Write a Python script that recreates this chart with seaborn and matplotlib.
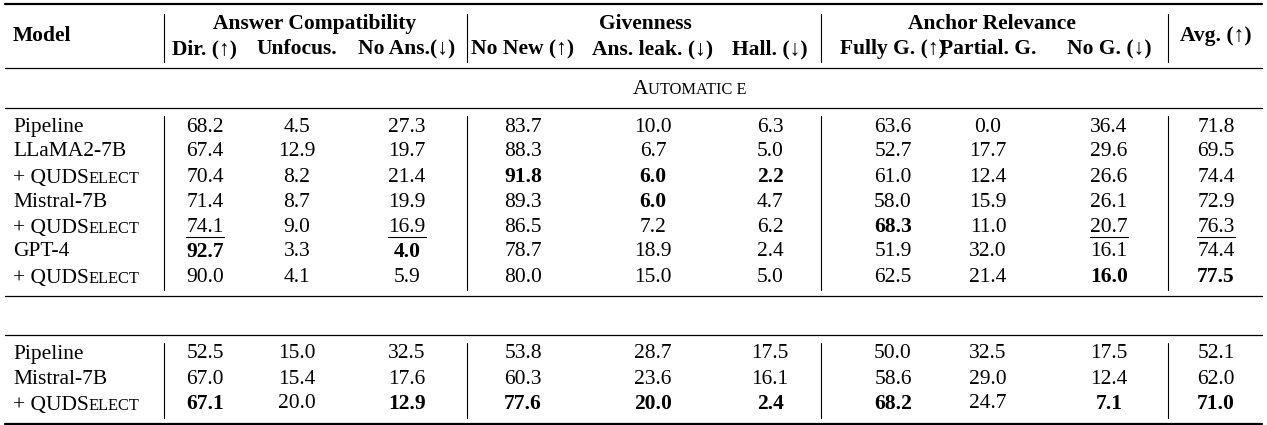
import matplotlib
matplotlib.use("Agg")
import matplotlib.pyplot as plt
import seaborn as sns

sns.set_theme(style="white")
plt.rcParams['font.family'] = ['Liberation Serif', 'DejaVu Serif']
plt.rcParams['text.color'] = 'black'

# Data
groups = ["Answer Compatibility", "Givenness", "Anchor Relevance"]
columns = ["Dir. (↑)", "Unfocus.", "No Ans.(↓)", "No New (↑)", "Ans. leak. (↓)", "Hall. (↓)",
           "Fully G. (↑)", "Partial. G.", "No G. (↓)", "Avg. (↑)"]
auto_models = ["Pipeline", "LLaMA2-7B", "+ QUDSELECT", "Mistral-7B", "+ QUDSELECT", "GPT-4", "+ QUDSELECT"]
auto_values = [
    ["68.2", "4.5", "27.3", "83.7", "10.0", "6.3", "63.6", "0.0", "36.4", "71.8"],
    ["67.4", "12.9", "19.7", "88.3", "6.7", "5.0", "52.7", "17.7", "29.6", "69.5"],
    ["70.4", "8.2", "21.4", "91.8", "6.0", "2.2", "61.0", "12.4", "26.6", "74.4"],
    ["71.4", "8.7", "19.9", "89.3", "6.0", "4.7", "58.0", "15.9", "26.1", "72.9"],
    ["74.1", "9.0", "16.9", "86.5", "7.2", "6.2", "68.3", "11.0", "20.7", "76.3"],
    ["92.7", "3.3", "4.0", "78.7", "18.9", "2.4", "51.9", "32.0", "16.1", "74.4"],
    ["90.0", "4.1", "5.9", "80.0", "15.0", "5.0", "62.5", "21.4", "16.0", "77.5"],
]
auto_bold = [(2, 3), (2, 4), (2, 5), (3, 4), (4, 6), (5, 0), (5, 2), (6, 8), (6, 9)]
auto_under = [(4, 0), (4, 2), (4, 8), (4, 9)]
human_models = ["Pipeline", "Mistral-7B", "+ QUDSELECT"]
human_values = [
    ["52.5", "15.0", "32.5", "53.8", "28.7", "17.5", "50.0", "32.5", "17.5", "52.1"],
    ["67.0", "15.4", "17.6", "60.3", "23.6", "16.1", "58.6", "29.0", "12.4", "62.0"],
    ["67.1", "20.0", "12.9", "77.6", "20.0", "2.4", "68.2", "24.7", "7.1", "71.0"],
]
human_bold = [(2, 0), (2, 2), (2, 3), (2, 4), (2, 5), (2, 6), (2, 8), (2, 9)]

# Layout (pixels)
col_x = [205, 297, 407, 523, 653, 770, 893, 988, 1109, 1216]
vlines = [164, 467, 821, 1168]
group_x = [315, 645, 992]
FS = 15.5
SC = 0.76

fig = plt.figure(figsize=(12.67, 4.25), dpi=100)
ax = fig.add_axes([0, 0, 1, 1])
ax.set_xlim(0, 1267)
ax.set_ylim(425, 0)
ax.axis("off")
renderer = fig.canvas.get_renderer()
inv = ax.transData.inverted()


def width_of(t):
    bb = t.get_window_extent(renderer)
    return inv.transform((bb.x1, 0))[0] - inv.transform((bb.x0, 0))[0]


def small_caps(x, y, big, small, center=False):
    # big letter(s) at full size, remainder in smaller capitals
    t1 = ax.text(x, y, big, fontsize=FS, va="baseline")
    t2 = ax.text(x, y, small, fontsize=FS * SC, va="baseline")
    w1 = width_of(t1)
    if center:
        total = w1 + width_of(t2)
        x = x - total / 2
        t1.set_x(x)
    t2.set_x(x + w1)


def model_label(y, name):
    if name.endswith("QUDSELECT"):
        small_caps(13, y + 6, "+ QUDS", "ELECT")
    else:
        ax.text(13, y, name, fontsize=FS, va="center")


def draw_rows(models, values, bold, under, y0, y1):
    step = 25
    for i, (m, row) in enumerate(zip(models, values)):
        y = y0 + i * step
        model_label(y, m)
        for j, v in enumerate(row):
            w = "bold" if (i, j) in bold else "normal"
            t = ax.text(col_x[j], y, v, fontsize=FS, ha="center", va="center", fontweight=w)
            if (i, j) in under:
                bb = t.get_window_extent(renderer)
                xa = inv.transform((bb.x0, 0))[0]
                xb = inv.transform((bb.x1, 0))[0]
                ax.plot([xa, xb], [y + 10, y + 10], color="black", lw=0.8)
    for vx in vlines:
        ax.plot([vx, vx], [y0 - 11, y1], color="black", lw=0.8)


# Header
ax.plot([5, 1262], [4, 4], color="black", lw=1.6)
ax.text(13, 36, "Model", fontsize=FS, fontweight="bold", va="center")
for g, gx in zip(groups, group_x):
    ax.text(gx, 24, g, fontsize=FS, fontweight="bold", ha="center", va="center")
for c, cx in zip(columns[:-1], col_x[:-1]):
    ax.text(cx, 49, c, fontsize=FS, fontweight="bold", ha="center", va="center")
ax.text(col_x[-1], 36, columns[-1], fontsize=FS, fontweight="bold", ha="center", va="center")
for vx in vlines:
    ax.plot([vx, vx], [14, 62], color="black", lw=0.8)
ax.plot([5, 1262], [68, 68], color="black", lw=0.9)

# Automatic evaluation
small_caps(633, 94, "A", "UTOMATIC E", center=False)
ax.plot([5, 1262], [108, 108], color="black", lw=0.9)
draw_rows(auto_models, auto_values, auto_bold, auto_under, 127, 290)
ax.plot([5, 1262], [296, 296], color="black", lw=0.9)

# Human evaluation
ax.plot([5, 1262], [335, 335], color="black", lw=0.9)
draw_rows(human_models, human_values, human_bold, [], 354, 418)
ax.plot([5, 1262], [424, 424], color="black", lw=1.6)

fig.savefig("out.png", dpi=100, facecolor="white")
